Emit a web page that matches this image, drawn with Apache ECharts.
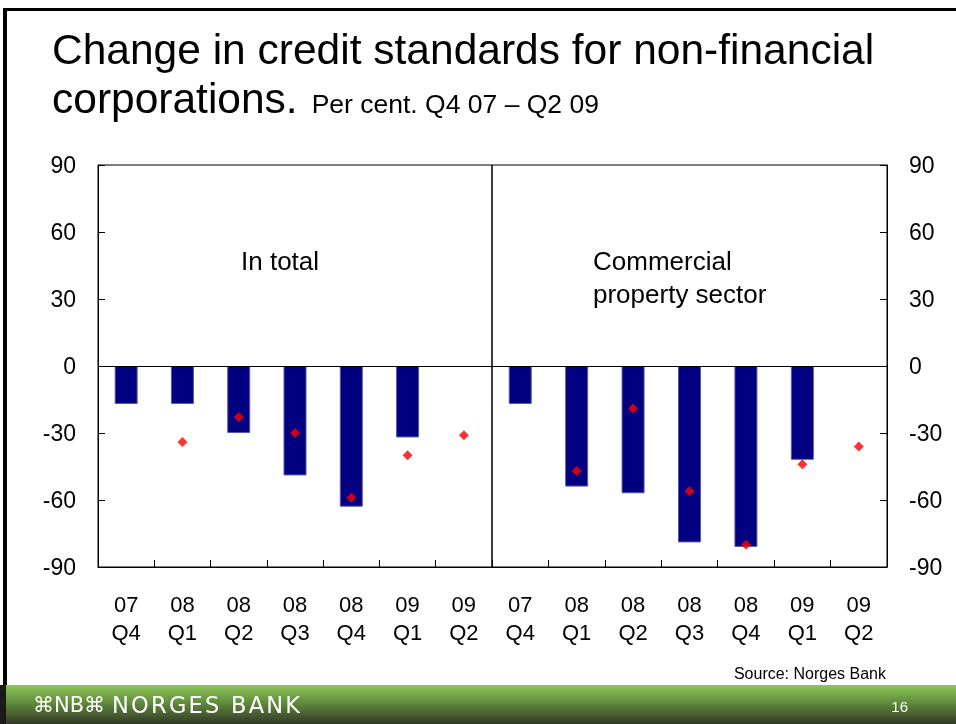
<!DOCTYPE html>
<html>
<head>
<meta charset="utf-8">
<script src="https://cdn.jsdelivr.net/npm/echarts@6/dist/echarts.min.js"></script>
<style>
  html, body { margin: 0; padding: 0; background: #fff; }
  #chart { width: 956px; height: 724px; }
</style>
</head>
<body>
<div id="chart"></div>
<script>
// Quarters shown in each panel
const categories = ['07\nQ4', '08\nQ1', '08\nQ2', '08\nQ3', '08\nQ4', '09\nQ1', '09\nQ2'];

// In total: actual change (bars) and expected change (diamonds)
const totalBars = [-17, -17, -30, -49, -63, -32, null];
const totalDots = [null, -34, -23, -30, -59, -40, -31];

// Commercial property sector: actual change (bars) and expected change (diamonds)
const commBars = [-17, -54, -57, -79, -81, -42, null];
const commDots = [null, -47, -19, -56, -80, -44, -36];

// Value axis range and step
const yMin = -90, yMax = 90, yStep = 30;

const FONT = '"Liberation Sans", Arial, sans-serif';

const chart = echarts.init(document.getElementById('chart'), null, { renderer: 'canvas' });

function xAxisFor(gridIndex) {
  return {
    type: 'category',
    gridIndex: gridIndex,
    data: categories,
    boundaryGap: true,
    axisLine: { onZero: false, lineStyle: { color: '#000', width: 1 } },
    axisTick: { show: true, inside: true, length: 7, alignWithLabel: false, lineStyle: { color: '#000' } },
    axisLabel: { interval: 0, color: '#000', fontFamily: FONT, fontSize: 22, lineHeight: 28, margin: 25 },
    splitLine: { show: false }
  };
}

function yAxisFor(gridIndex, position) {
  return {
    type: 'value',
    gridIndex: gridIndex,
    position: position,
    min: yMin,
    max: yMax,
    interval: yStep,
    axisLine: { show: true, lineStyle: { color: '#000', width: 1 } },
    axisTick: { show: true, inside: true, length: 7, lineStyle: { color: '#000' } },
    axisLabel: {
      color: '#000', fontFamily: FONT, fontSize: 23, margin: 22,
      formatter: v => '{t|' + v + '}',
      rich: { t: { fontFamily: FONT, fontSize: 23, color: '#000', padding: [4, 0, 0, 0] } }
    },
    splitLine: { show: false }
  };
}

const zeroLine = {
  silent: true,
  symbol: 'none',
  label: { show: false },
  lineStyle: { color: '#000', type: 'solid', width: 1 },
  data: [{ yAxis: 0 }]
};

function barSeries(idx, values) {
  return {
    type: 'bar',
    xAxisIndex: idx,
    yAxisIndex: idx,
    data: values,
    barWidth: 23,
    itemStyle: { color: '#000080', borderColor: '#5858b0', borderWidth: 1 },
    markLine: zeroLine,
    z: 2
  };
}

function dotSeries(idx, values) {
  return {
    type: 'scatter',
    xAxisIndex: idx,
    yAxisIndex: idx,
    data: values,
    symbol: 'diamond',
    symbolSize: 10,
    itemStyle: { color: '#ff0000' },
    z: 3
  };
}

const option = {
  backgroundColor: '#ffffff',
  animation: false,
  grid: [
    { left: 98, top: 165, width: 394, height: 402, show: true, borderColor: '#000', borderWidth: 1, backgroundColor: 'transparent' },
    { left: 492, top: 165, width: 395, height: 402, show: true, borderColor: '#000', borderWidth: 1, backgroundColor: 'transparent' }
  ],
  xAxis: [xAxisFor(0), xAxisFor(1)],
  yAxis: [yAxisFor(0, 'left'), yAxisFor(1, 'right')],
  series: [
    barSeries(0, totalBars),
    dotSeries(0, totalDots),
    barSeries(1, commBars),
    dotSeries(1, commDots)
  ],
  graphic: [
    // slide frame
    { type: 'rect', shape: { x: 3, y: 8, width: 953, height: 3 }, style: { fill: '#000' }, silent: true },
    { type: 'rect', shape: { x: 3, y: 8, width: 4, height: 716 }, style: { fill: '#000' }, silent: true },
    // heading
    { type: 'text', left: 52, top: 31, silent: true,
      style: { text: 'Change in credit standards for non-financial', font: '42.5px ' + FONT, fill: '#000' } },
    { type: 'text', left: 52, top: 80, silent: true,
      style: {
        text: '{a|corporations.}{b|Per cent. Q4 07 – Q2 09}',
        rich: {
          a: { font: '42.5px ' + FONT, fill: '#000', verticalAlign: 'bottom', lineHeight: 50 },
          b: { font: '26.5px ' + FONT, fill: '#000', verticalAlign: 'bottom', lineHeight: 50, padding: [0, 0, 4, 14] }
        }
      } },
    // panel captions
    { type: 'text', x: 241, y: 263, silent: true,
      style: { text: 'In total', font: '26px ' + FONT, fill: '#000', textVerticalAlign: 'middle' } },
    { type: 'text', x: 593, y: 279.5, silent: true,
      style: { text: 'Commercial\nproperty sector', font: '26px ' + FONT, lineHeight: 33, fill: '#000', textVerticalAlign: 'middle' } },
    // source note
    { type: 'text', x: 886, y: 675, silent: true,
      style: { text: 'Source: Norges Bank', font: '16px ' + FONT, fill: '#000', textAlign: 'right', textVerticalAlign: 'middle' } },
    // footer band
    { type: 'rect', shape: { x: 0, y: 685, width: 956, height: 39 }, silent: true,
      style: {
        fill: new echarts.graphic.LinearGradient(0, 0, 0, 1, [
          { offset: 0, color: '#8fc65a' },
          { offset: 0.35, color: '#6a9a42' },
          { offset: 1, color: '#333826' }
        ])
      } },
    { type: 'rect', shape: { x: 0, y: 685, width: 6, height: 39 }, style: { fill: '#1a1a1a' }, silent: true },
    { type: 'text', x: 33, y: 707, silent: true,
      style: { text: '⌘NB⌘', font: '21px "DejaVu Sans", sans-serif', fill: '#fff', textVerticalAlign: 'middle' } },
    { type: 'text', x: 112, y: 707, silent: true,
      style: { text: 'N\u200AO\u200AR\u200AG\u200AE\u200AS\u2009 B\u200AA\u200AN\u200AK', font: '22.5px "DejaVu Sans", sans-serif', fill: '#fff', textVerticalAlign: 'middle' } },
    { type: 'text', x: 908, y: 708, silent: true,
      style: { text: '16', font: '15px ' + FONT, fill: '#fff', textAlign: 'right', textVerticalAlign: 'middle' } }
  ]
};

chart.setOption(option);
</script>
</body>
</html>
